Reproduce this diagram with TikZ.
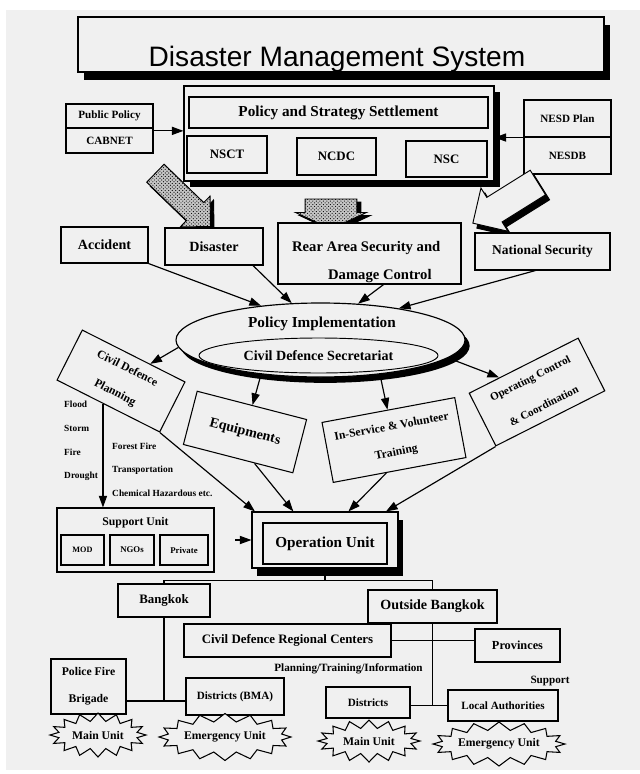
\documentclass[tikz,border=0pt]{standalone}
\usepackage{fontspec}
\setmainfont{Liberation Serif}
\setsansfont{Liberation Sans}
\usetikzlibrary{arrows.meta,shapes.geometric,shapes.symbols,shapes.arrows,shadows,patterns,calc}

\definecolor{pagegray}{gray}{0.94}
\newcommand{\fsz}[2]{\fontsize{#1}{#2}\selectfont\bfseries}

\tikzset{
  wh/.style 2 args={minimum width=#1*0.03cm, minimum height=#2*0.03cm},
  box/.style={draw, line width=0.9pt, fill=pagegray, inner sep=0pt},
  shadowbox/.style 2 args={box, drop shadow={fill=black, opacity=1, shadow xshift=#1, shadow yshift=#2}},
  arr/.style={-{Triangle[length=10pt,width=7pt]}, line width=1pt},
  link/.style={line width=0.9pt},
  fatarrow/.style={single arrow, draw, line width=0.8pt, inner xsep=0pt},
  burst/.style={starburst, draw, line width=0.9pt, fill=pagegray, inner sep=0pt,
    random starburst=0, starburst points=16, starburst point height=7pt, font=\fsz{10}{10}},
}

\begin{document}
\begin{tikzpicture}[x=0.03cm, y=-0.03cm]

    \useasboundingbox (0,0) rectangle (640,774);
    \fill [white] (0,0) rectangle (640,774);
    \fill [pagegray] (6,10) rectangle (640,770);

    % title
    \node (title) [shadowbox={5pt}{-7pt}, wh={526}{55}] at (341,44.5) {};
    \node (titletext) [anchor=base, font=\sffamily\fontsize{24}{24}\selectfont] at (337,66) {Disaster Management System};

    % policy level
    \node (policy) [shadowbox={5pt}{-5pt}, wh={310}{95}] at (339,133.5) {};
    \node (strategy) [box, wh={299}{31}, font=\fsz{13}{13}] at (338.5,112.5) {Policy and Strategy Settlement};
    \node (nsct) [box, wh={80}{37}, font=\fsz{11}{11}] at (227,154.5) {NSCT};
    \node (ncdc) [box, wh={79}{37}, font=\fsz{11}{11}] at (336.5,156.5) {NCDC};
    \node (nsc) [box, wh={81}{36}, font=\fsz{11}{11}] at (446.5,159) {NSC};

    \node (pubpol) [box, wh={87}{24}, font=\fsz{9.5}{9.5}] at (109.5,116) {Public Policy};
    \node (cabinet) [box, wh={87}{25}, font=\fsz{9.5}{9.5}] at (109.5,140.5) {CABNET};
    \draw [arr] ([yshift=-2pt]pubpol.south east) -- ([yshift=-2pt]pubpol.south east -| policy.west);

    \node (nesdplan) [box, wh={87}{37}, font=\fsz{9.5}{9.5}] at (567.5,118.5) {NESD Plan};
    \node (nesdb) [box, wh={87}{37}, font=\fsz{9.5}{9.5}] at (567.5,155.5) {NESDB};
    \draw [arr] (nesdplan.south west) -- (nesdplan.south west -| policy.east);

    % fat arrows
    \node (leftshadow) [fatarrow, fill=black, rotate=-44, inner ysep=0.36cm, minimum height=2.3cm, single arrow head extend=0.27cm] at (182,199.5) {};
    \node (leftarrow) [fatarrow, fill=gray!45, postaction={pattern=crosshatch dots}, rotate=-44, inner ysep=0.36cm, minimum height=2.3cm, single arrow head extend=0.27cm] at (178.5,195.5) {};
    \node (midshadow) [fatarrow, fill=black, rotate=-90, inner ysep=0.76cm, minimum height=0.9cm, single arrow head extend=0.29cm, single arrow tip angle=130] at (335,211) {};
    \node (midarrow) [fatarrow, fill=gray!45, postaction={pattern=crosshatch dots}, rotate=-90, inner ysep=0.76cm, minimum height=0.9cm, single arrow head extend=0.29cm, single arrow tip angle=130] at (331,208) {};
    \node (rightshadow) [fatarrow, fill=black, rotate=-148, inner ysep=0.42cm, minimum height=2.3cm, single arrow head extend=0.33cm] at (515.5,204) {};
    \node (rightarrow) [fatarrow, fill=pagegray, rotate=-148, inner ysep=0.42cm, minimum height=2.3cm, single arrow head extend=0.33cm] at (511.5,199) {};

    % sources
    \node (accident) [box, wh={87}{36}, font=\fsz{12}{12}] at (104.5,245) {Accident};
    \node (disaster) [box, wh={98}{37}, font=\fsz{12}{12}] at (214,246.5) {Disaster};
    \node (rear) [box, wh={183}{61}] at (369.5,253.5) {};
    \node (reartop) [anchor=base west, font=\fsz{12.5}{12.5}] at (288,251) {Rear Area Security and};
    \node (rearbottom) [anchor=base west, font=\fsz{12.5}{12.5}] at (324,279) {Damage Control};
    \node (national) [box, wh={135}{37}, font=\fsz{11.5}{11.5}] at (542.5,251.5) {National Security};

    % implementation
    \node (impl) [ellipse, draw, line width=1pt, fill=pagegray, inner sep=0pt, wh={289}{74},
      drop shadow={fill=black, opacity=1, shadow xshift=4pt, shadow yshift=-5pt}] at (320.5,340) {};
    \node (impltext) [font=\fsz{13}{13}] at (322,324) {Policy Implementation};
    \node (secretariat) [ellipse, draw, line width=0.8pt, inner sep=0pt, wh={239}{35}, font=\fsz{12}{12}] at (318.5,355.5) {Civil Defence Secretariat};

    \draw [arr] (accident.south east) -- (impl.150);
    \draw [arr] (disaster.-26.6) -- (impl.128);
    \draw [arr] ([xshift=12pt]rear.south) -- (impl.44);
    \draw [arr] ([xshift=-6pt]national.south) -- (impl.22);

    % tilted boxes
    \node (cdp) [box, wh={115}{56}, rotate=-26.8, font=\fsz{10}{23}, align=center] at (121,381) {Civil Defence\\Planning};
    \node (equip) [box, wh={113}{55}, rotate=-14.5, font=\fsz{12}{12}] at (245,432) {Equipments};
    \node (inserv) [box, wh={135}{61}, rotate=10.6, font=\fsz{10}{22}, align=center] at (394,440) {In-Service \& Volunteer\\Training};
    \node (opctl) [box, wh={122}{59}, rotate=26.8, font=\fsz{9.5}{26}, align=center] at (537,392) {Operating Control\\\& Coordination};

    \draw [arr] (impl.183) -- (cdp);
    \draw [arr] (impl.-150) -- (equip);
    \draw [arr] (impl.-30) -- (inserv);
    \draw [arr] (impl.-8) -- (opctl);

    \foreach \name/\y/\txt in {flood/404/Flood, storm/428/Storm, fire/452/Fire, drought/476/Drought}
      \node (\name) [anchor=west, inner sep=0pt, font=\fsz{8}{8}] at (64,\y) {\txt};
    \foreach \name/\y/\txt in {forest/446/Forest Fire, transport/470/Transportation, chemical/493/Chemical Hazardous etc.}
      \node (\name) [anchor=west, inner sep=0pt, font=\fsz{8}{8}] at (112,\y) {\txt};

    % units
    \node (support) [box, wh={157}{64}] at (135.5,540) {};
    \node (supportlbl) [font=\fsz{10}{10}] at (135.5,523) {Support Unit};
    \node (mod) [box, wh={43}{30}, font=\fsz{7}{7}] at (82.5,550) {MOD};
    \node (ngos) [box, wh={44}{30}, font=\fsz{7.5}{7.5}] at (132,550) {NGOs};
    \node (private) [box, wh={48}{30}, font=\fsz{7.5}{7.5}] at (184,550) {Private};

    \node (opunit) [shadowbox={4.5pt}{-7pt}, wh={146}{56}] at (325,540) {};
    \node (opinner) [box, wh={124}{41}, font=\fsz{13}{13}] at (325,543.5) {Operation Unit};
    \coordinate (opin) at ([xshift=-14pt]opunit.west);
    \draw [arr] (opin) -- (opunit.west);

    \coordinate (cdpfoot) at ($(cdp.south west)!0.45!(cdp.south east)$);
    \draw [arr] (cdpfoot) -- (cdpfoot |- support.north);
    \draw [arr] (cdp.south east) -- ([xshift=3pt]opunit.north west);
    \draw [arr] ($(equip.south)!0.3!(equip.south east)$) -- ([xshift=-27pt]opunit.north);
    \draw [arr] ($(inserv.south)!0.2!(inserv.south west)$) -- ([xshift=20pt]opunit.north);
    \draw [arr] (opctl.south west) -- ([xshift=52pt]opunit.north);

    % areas
    \node (bangkok) [box, wh={92}{33}, font=\fsz{11}{11}] at (164,600.5) {Bangkok};
    \node (outside) [box, wh={129}{33}, font=\fsz{12}{12}] at (432.5,606.5) {Outside Bangkok};
    \coordinate (fork) at ([yshift=-10pt]opunit.south);
    \draw [link] (opunit.south) -- (fork);
    \draw [link] (bangkok.north) -- (bangkok.north |- fork) -- (outside.north |- fork) -- (outside.north);

    \node (cdrc) [box, wh={207}{33}, font=\fsz{11}{11}] at (287.5,640.5) {Civil Defence Regional Centers};
    \node (provinces) [box, wh={85}{33}, font=\fsz{10.5}{10.5}] at (517.5,645.5) {Provinces};
    \draw [link] (cdrc.east) -- (cdrc.east -| provinces.west);

    \node (plan) [font=\fsz{9.5}{9.5}] at (348.5,669) {Planning/Training/Information};
    \node (supportnote) [font=\fsz{9.5}{9.5}] at (550,681) {Support};

    \node (police) [box, wh={75}{55}, font=\fsz{10}{23}, align=center] at (88.5,686.5) {Police Fire\\Brigade};
    \node (bma) [box, wh={98}{37}, font=\fsz{9.5}{9.5}] at (235,696.5) {Districts (BMA)};
    \node (districts) [box, wh={84}{31}, font=\fsz{9.5}{9.5}] at (368,702.5) {Districts};
    \node (local) [box, wh={110}{31}, font=\fsz{9.5}{9.5}] at (503,705.5) {Local Authorities};

    \coordinate (bkjoin) at (164,701);
    \draw [link] (bangkok.south) -- (bkjoin);
    \draw [link] (bkjoin -| police.east) -- (bkjoin -| bma.west);
    \coordinate (objoin) at (outside.south |- local.west);
    \draw [link] (outside.south) -- (objoin);
    \draw [link] (objoin -| districts.east) -- (local.west);

    % field units
    \node (main1) [burst, minimum width=2.88cm, minimum height=1.32cm] at (98,735) {Main Unit};
    \node (emerg1) [burst, minimum width=3.78cm, minimum height=1.41cm] at (225,737) {Emergency Unit};
    \node (main2) [burst, minimum width=3.06cm, minimum height=1.26cm] at (369,741) {Main Unit};
    \node (emerg2) [burst, minimum width=3.75cm, minimum height=1.32cm] at (499,744) {Emergency Unit};

\end{tikzpicture}
\end{document}
